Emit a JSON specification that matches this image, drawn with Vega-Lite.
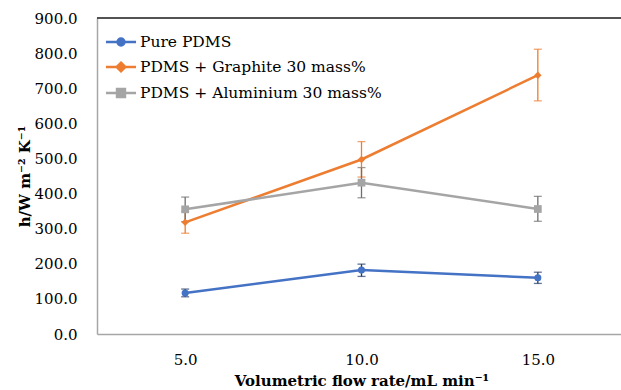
{
  "$schema": "https://vega.github.io/schema/vega-lite/v6.json",
  "width": 529,
  "height": 316,
  "padding": {"left": 17, "top": 11, "right": 0, "bottom": 0},
  "background": "white",
  "config": {
    "view": {"stroke": null},
    "font": "DejaVu Serif",
    "axis": {
      "domainColor": "#a6a6a6",
      "domainWidth": 1.5,
      "ticks": false,
      "grid": false,
      "labelOverlap": false,
      "labelFont": "DejaVu Serif",
      "labelFontSize": 15,
      "labelColor": "#000000",
      "titleFont": "DejaVu Serif",
      "titleFontSize": 15,
      "titleFontWeight": "bold",
      "titleColor": "#000000"
    }
  },
  "datasets": {
    "main": [
      {"flow": "5.0", "series": "Pure PDMS", "h": 117, "lo": 106, "hi": 128},
      {"flow": "10.0", "series": "Pure PDMS", "h": 182, "lo": 164, "hi": 199},
      {"flow": "15.0", "series": "Pure PDMS", "h": 160, "lo": 144, "hi": 176},
      {"flow": "5.0", "series": "PDMS + Graphite 30 mass%", "h": 318, "lo": 287, "hi": 349},
      {"flow": "10.0", "series": "PDMS + Graphite 30 mass%", "h": 497, "lo": 447, "hi": 548},
      {"flow": "15.0", "series": "PDMS + Graphite 30 mass%", "h": 737, "lo": 664, "hi": 811},
      {"flow": "5.0", "series": "PDMS + Aluminium 30 mass%", "h": 355, "lo": 320, "hi": 390},
      {"flow": "10.0", "series": "PDMS + Aluminium 30 mass%", "h": 431, "lo": 388, "hi": 474},
      {"flow": "15.0", "series": "PDMS + Aluminium 30 mass%", "h": 356, "lo": 321, "hi": 392}
    ],
    "top": [{"v": 900}]
  },
  "layer": [
    {
      "data": {"name": "main"},
      "mark": {"type": "errorbar", "ticks": {"size": 8}, "thickness": 1.3},
      "encoding": {
        "x": {
          "field": "flow",
          "type": "ordinal",
          "sort": ["5.0", "10.0", "15.0"],
          "scale": {"type": "point", "padding": 0.5},
          "axis": {
            "title": "Volumetric flow rate/mL min⁻¹",
            "labelAngle": 0,
            "labelPadding": 18,
            "titlePadding": 6
          }
        },
        "y": {
          "field": "lo",
          "type": "quantitative",
          "scale": {"domain": [0, 900], "nice": false},
          "axis": {
            "title": "h/W m⁻² K⁻¹",
            "values": [0, 100, 200, 300, 400, 500, 600, 700, 800, 900],
            "format": ".1f",
            "labelOverlap": false,
            "labelPadding": 20,
            "titlePadding": 2
          }
        },
        "y2": {"field": "hi"},
        "color": {
          "field": "series",
          "type": "nominal",
          "scale": {
            "domain": ["Pure PDMS", "PDMS + Graphite 30 mass%", "PDMS + Aluminium 30 mass%"],
            "range": ["#1f3864", "#ed7d31", "#6f6f6f"]
          },
          "legend": null
        }
      }
    },
    {
      "data": {"name": "top"},
      "mark": {"type": "rule", "color": "#1a1a1a", "strokeWidth": 1.5},
      "encoding": {
        "y": {
          "field": "v",
          "type": "quantitative",
          "axis": {
            "title": "h/W m⁻² K⁻¹",
            "values": [0, 100, 200, 300, 400, 500, 600, 700, 800, 900],
            "format": ".1f",
            "labelOverlap": false,
            "labelPadding": 20,
            "titlePadding": 2
          }
        }
      }
    },
    {
      "data": {"name": "main"},
      "layer": [
        {
          "mark": {"type": "line", "strokeWidth": 2.5},
          "encoding": {
            "x": {"field": "flow", "type": "ordinal", "sort": ["5.0", "10.0", "15.0"]},
            "y": {
              "field": "h",
              "type": "quantitative",
              "axis": {
                "title": "h/W m⁻² K⁻¹",
                "values": [0, 100, 200, 300, 400, 500, 600, 700, 800, 900],
                "format": ".1f",
                "labelOverlap": false,
                "labelPadding": 20,
                "titlePadding": 2
              }
            },
            "color": {
              "field": "series",
              "type": "nominal",
              "sort": ["Pure PDMS", "PDMS + Graphite 30 mass%", "PDMS + Aluminium 30 mass%"],
              "scale": {
                "domain": ["Pure PDMS", "PDMS + Graphite 30 mass%", "PDMS + Aluminium 30 mass%"],
                "range": ["#4472c4", "#ed7d31", "#a5a5a5"]
              },
              "legend": {
                "title": null,
                "orient": "top-left",
                "offset": 10,
                "padding": 0,
                "labelFont": "DejaVu Serif",
                "labelFontSize": 15.5,
                "labelColor": "#000000",
                "labelOffset": 5,
                "labelLimit": 400,
                "symbolSize": 650,
                "symbolStrokeWidth": 2.5,
                "rowPadding": 2,
                "encode": {
                  "symbols": {
                    "update": {
                      "shape": {"signal": "datum.value === 'Pure PDMS' ? 'M-1.18,0L1.18,0M-0.27,0A0.27,0.27 0 1 0 0.27,0A0.27,0.27 0 1 0 -0.27,0Z' : datum.value === 'PDMS + Graphite 30 mass%' ? 'M-1.18,0L1.18,0M0,-0.34L0.34,0L0,0.34L-0.34,0Z' : 'M-1.18,0L1.18,0M-0.31,-0.31H0.31V0.31H-0.31Z'"},
                      "fill": {"signal": "datum.value === 'Pure PDMS' ? '#4472c4' : datum.value === 'PDMS + Graphite 30 mass%' ? '#ed7d31' : '#a5a5a5'"},
                      "stroke": {"signal": "datum.value === 'Pure PDMS' ? '#4472c4' : datum.value === 'PDMS + Graphite 30 mass%' ? '#ed7d31' : '#a5a5a5'"},
                      "strokeWidth": {"value": 2.5},
                      "opacity": {"value": 1}
                    }
                  }
                }
              }
            }
          }
        },
        {
          "mark": {"type": "point", "filled": true, "opacity": 1},
          "encoding": {
            "x": {"field": "flow", "type": "ordinal", "sort": ["5.0", "10.0", "15.0"]},
            "y": {
              "field": "h",
              "type": "quantitative",
              "axis": {
                "title": "h/W m⁻² K⁻¹",
                "values": [0, 100, 200, 300, 400, 500, 600, 700, 800, 900],
                "format": ".1f",
                "labelOverlap": false,
                "labelPadding": 20,
                "titlePadding": 2
              }
            },
            "color": {"field": "series", "type": "nominal"},
            "shape": {
              "field": "series",
              "type": "nominal",
              "scale": {
                "domain": ["Pure PDMS", "PDMS + Graphite 30 mass%", "PDMS + Aluminium 30 mass%"],
                "range": ["circle", "diamond", "square"]
              },
              "legend": null
            },
            "size": {
              "field": "series",
              "type": "nominal",
              "scale": {
                "domain": ["Pure PDMS", "PDMS + Graphite 30 mass%", "PDMS + Aluminium 30 mass%"],
                "range": [50, 60, 80]
              },
              "legend": null
            }
          }
        }
      ]
    }
  ],
  "resolve": {"scale": {"color": "independent"}}
}
